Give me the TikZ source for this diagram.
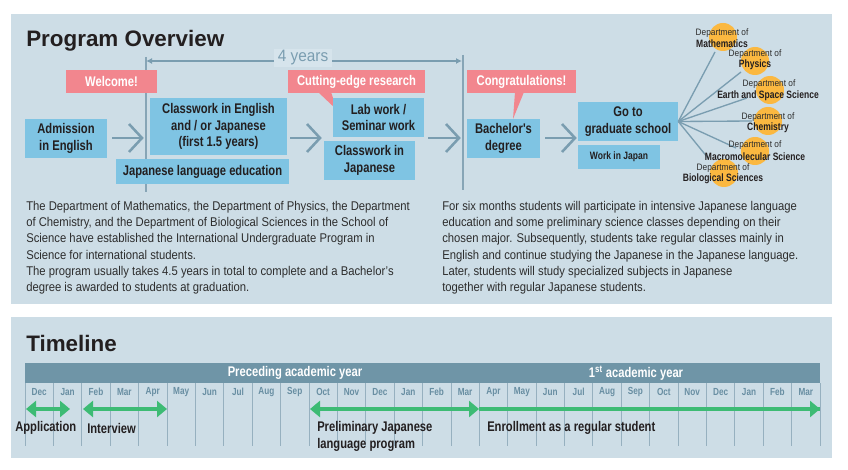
\documentclass[tikz,border=0pt]{standalone}
\usepackage{fontspec}
\setmainfont{Liberation Sans}
\newfontfamily\cond[FakeStretch=0.8]{Liberation Sans}
\newfontfamily\condr[FakeStretch=0.89]{Liberation Sans}
\newfontfamily\lite[FakeStretch=0.93]{Liberation Sans}
\usetikzlibrary{arrows.meta,calc}
\definecolor{panel}{RGB}{205,221,230}
\definecolor{boxblue}{RGB}{127,196,227}
\definecolor{pinkc}{RGB}{242,134,142}
\definecolor{ink}{RGB}{35,31,32}
\definecolor{bodyc}{RGB}{45,45,45}
\definecolor{arrowc}{RGB}{122,157,176}
\definecolor{vlinec}{RGB}{135,165,182}
\definecolor{bandc}{RGB}{111,149,167}
\definecolor{monthc}{RGB}{104,142,162}
\definecolor{divc}{RGB}{150,176,191}
\definecolor{greenarr}{RGB}{61,187,116}
\definecolor{deptorange}{RGB}{251,184,64}
\definecolor{lightbox}{RGB}{214,228,236}
\begin{document}
\begin{tikzpicture}[x=0.75pt,y=-0.75pt,
  title/.style={inner sep=0pt,text=ink,font=\bfseries\fontsize{16.8}{20}\selectfont},
  bbox/.style 2 args={fill=boxblue,text=ink,align=center,inner sep=0pt,
    font=\cond\bfseries\fontsize{10.5}{12.2}\selectfont,
    minimum width=#1*0.75pt,minimum height=#2*0.75pt},
  pbox/.style 2 args={fill=pinkc,text=white,align=center,inner sep=0pt,
    font=\cond\bfseries\fontsize{10.5}{12.2}\selectfont,
    minimum width=#1*0.75pt,minimum height=#2*0.75pt},
  chev/.style={draw=arrowc,line width=1.9pt,line join=miter},
  vline/.style={draw=vlinec,line width=1.1pt},
  yrline/.style={draw=arrowc,line width=1.1pt},
  fanline/.style={draw=arrowc,line width=1pt},
  dcirc/.style={circle,fill=deptorange,minimum size=21pt,inner sep=0pt},
  dsmall/.style={inner sep=0pt,text=bodyc,font=\condr\fontsize{7}{8}\selectfont},
  dname/.style={inner sep=0pt,text=ink,font=\cond\bfseries\fontsize{8}{9}\selectfont},
  body/.style={inner sep=0pt,text=bodyc,align=left,anchor=north west,
    font=\condr\fontsize{9.5}{12.2}\selectfont},
  bandtext/.style={inner sep=0pt,text=white,font=\cond\bfseries\fontsize{10.5}{12}\selectfont},
  month/.style={inner sep=0pt,text=monthc,font=\cond\bfseries\fontsize{7.7}{9}\selectfont},
  divider/.style={draw=divc,line width=0.6pt},
  garrow/.style={draw=greenarr,line width=3pt},
  tlabel/.style={inner sep=0pt,text=ink,align=left,font=\cond\bfseries\fontsize{10.5}{12.75}\selectfont},
  gtip/.tip={Triangle[length=7.5pt,width=12pt]}
]
\useasboundingbox (0,0) rectangle (848,470);
\fill[white] (0,0) rectangle (848,470);
\fill[panel] (11,14) rectangle (832,304);
\fill[panel] (11,317) rectangle (832,458);

% titles
\node[title,anchor=base west] (t1) at (26,47) {Program Overview};
\node[title,anchor=base west] (t2) at (26,351) {Timeline};

% vertical markers and 4 years
\draw[vline] (146,57) -- (146,192);
\draw[vline] (463,55) -- (463,190);
\coordinate (yl) at (146,61);
\coordinate (yr) at (462,61);
\draw[yrline,{Latex[length=4.5pt,width=4.5pt]}-{Latex[length=4.5pt,width=4.5pt]}] (yl) -- (yr);
\node[fill=lightbox,inner xsep=2.5pt,inner ysep=1.5pt,text=arrowc,font=\lite\fontsize{12.4}{14}\selectfont] (yrs) at (303,58) {4 years};

% pink labels with tails
\fill[pinkc] (318,92) -- (331,92) -- (337,110) -- cycle;
\fill[pinkc] (515,92) -- (524,92) -- (513,119) -- cycle;
\node[pbox={91}{23}] (welcome) at (111.5,81.5) {Welcome!};
\node[pbox={137}{23}] (cutting) at (356.5,81.5) {Cutting-edge research};
\node[pbox={109}{23}] (congrats) at (521.5,81.5) {Congratulations!};

% blue boxes
\node[bbox={82}{39}] (adm) at (66,138.5) {Admission\\in English};
\node[bbox={137}{57}] (cwej) at (218.5,126.5) {Classwork in English\\and / or Japanese\\(first 1.5 years)};
\node[bbox={173}{25}] (jle) at (202.5,171.5) {Japanese language education};
\node[bbox={91}{39}] (lab) at (378.5,117.5) {Lab work /\\Seminar work};
\node[bbox={91}{39}] (cwj) at (369.5,160.5) {Classwork in\\Japanese};
\node[bbox={73}{39}] (bach) at (503.5,138.5) {Bachelor's\\degree};
\node[bbox={100}{39}] (grad) at (628,121.5) {Go to\\graduate school};
\node[bbox={82}{24},font=\cond\bfseries\fontsize{8}{9}\selectfont] (work) at (619,157) {Work in Japan};

% chevron arrows
\foreach \s/\t [count=\k] in {112/142,290/320,428/459,545/575}{
  \coordinate (cs\k) at (\s,138);
  \coordinate (ct\k) at (\t,138);
  \draw[chev] (cs\k) -- (ct\k);
  \draw[chev] ($(ct\k)+(-13,-14)$) -- (ct\k) -- ($(ct\k)+(-13,14)$);
}

% departments fan
\coordinate (e1) at (715,52);
\coordinate (e2) at (741,72);
\coordinate (e3) at (747,98);
\coordinate (e4) at (752,121);
\coordinate (e5) at (736,148);
\coordinate (e6) at (708,158);
\foreach \k in {1,...,6}{\draw[fanline] (grad.east) -- (e\k);}
\node[dcirc] (cmath) at (723,37) {};
\node[dcirc] (cphys) at (755,61) {};
\node[dcirc] (cearth) at (770,90) {};
\node[dcirc] (cchem) at (768,121) {};
\node[dcirc] (cmacro) at (755,151) {};
\node[dcirc] (cbio) at (724,173) {};
\node[dsmall] (d1) at (722,33) {Department of};
\node[dname] (n1) at (722,44) {Mathematics};
\node[dsmall] (d2) at (755,54) {Department of};
\node[dname] (n2) at (755,65) {Physics};
\node[dsmall] (d3) at (769,84) {Department of};
\node[dname] (n3) at (768,96) {Earth and Space Science};
\node[dsmall] (d4) at (768,117) {Department of};
\node[dname] (n4) at (768,128) {Chemistry};
\node[dsmall] (d5) at (755,145) {Department of};
\node[dname] (n5) at (755,157) {Macromolecular Science};
\node[dsmall] (d6) at (723,168) {Department of};
\node[dname] (n6) at (723,179) {Biological Sciences};

% body text
\node[body] (bodyl) at (26,201) {The Department of Mathematics, the Department of Physics, the Department\\
of Chemistry, and the Department of Biological Sciences in the School of\\
Science have established the International Undergraduate Program in\\
Science for international students.\\
The program usually takes 4.5 years in total to complete and a Bachelor’s\\
degree is awarded to students at graduation.};
\node[body] (bodyr) at (442,201) {For six months students will participate in intensive Japanese language\\
education and some preliminary science classes depending on their\\
chosen major. Subsequently, students take regular classes mainly in\\
English and continue studying the Japanese in the Japanese language.\\
Later, students will study specialized subjects in Japanese\\
together with regular Japanese students.};

% timeline
\fill[bandc] (25,363) rectangle (820,383);
\node[bandtext] (pre) at (295,373) {Preceding academic year};
\node[bandtext] (first) at (636,373) {1\textsuperscript{st} academic year};
\foreach \i in {0,...,28}{\draw[divider] ({25+\i*28.393},383) -- ({25+\i*28.393},446);}
\foreach \m [count=\i from 0] in {Dec,Jan,Feb,Mar,Apr,May,Jun,Jul,Aug,Sep,Oct,Nov,Dec,Jan,Feb,Mar,Apr,May,Jun,Jul,Aug,Sep,Oct,Nov,Dec,Jan,Feb,Mar}{
  \node[month] (m\i) at ({25+(\i+0.5)*28.393},392) {\m};
}
\coordinate (a1) at (26,409);
\coordinate (a2) at (70,409);
\coordinate (b1) at (83,409);
\coordinate (b2) at (167,409);
\coordinate (p1) at (310,409);
\coordinate (p2) at (479,409);
\coordinate (r1) at (479,409);
\coordinate (r2) at (820,409);
\draw[garrow,{gtip}-{gtip}] (a1) -- (a2);
\draw[garrow,{gtip}-{gtip}] (b1) -- (b2);
\draw[garrow] (r1) -- (r2);
\draw[garrow,-{gtip}] ($(r2)+(-1,0)$) -- (r2);
\draw[garrow,{gtip}-{gtip}] (p1) -- (p2);
\node[tlabel,anchor=west] (lapp) at (15,428) {Application};
\node[tlabel,anchor=west] (lint) at (87,428) {Interview};
\node[tlabel,anchor=north west] (lpre) at (317,421) {Preliminary Japanese\\language program};
\node[tlabel,anchor=west] (lenr) at (487,428) {Enrollment as a regular student};
\end{tikzpicture}
\end{document}
